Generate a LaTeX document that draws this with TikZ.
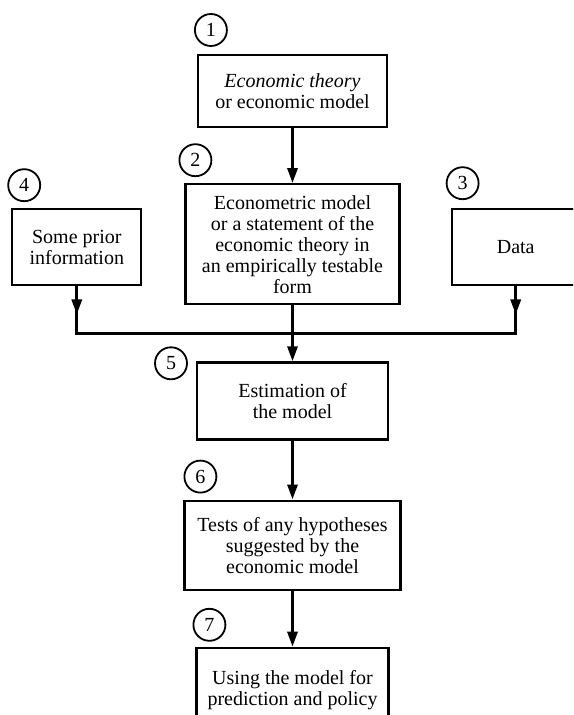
\documentclass[tikz,border=0pt]{standalone}
\usepackage{fontspec}
\setmainfont{Liberation Serif}
\usepackage{tikz}
\usetikzlibrary{shapes,positioning,calc,arrows.meta,decorations.markings}

\begin{document}
\begin{tikzpicture}[
    x=0.5pt,y=-0.5pt,
    node distance=28pt,
    stage/.style={rectangle,draw,line width=1.1pt,align=center,inner sep=2pt,font=\fontsize{10}{10.5}\selectfont},
    num/.style={circle,draw,line width=0.9pt,inner sep=0pt,minimum size=16pt,font=\fontsize{10}{10}\selectfont},
    flow/.style={line width=1.5pt,-{Triangle[length=7.5pt,width=5pt]}},
    midflow/.style={line width=1.5pt,postaction={decorate},
        decoration={markings,mark=at position 0.6 with {\arrow{Triangle[length=7.5pt,width=5pt]}}}}
    ]
        \useasboundingbox (0,0) rectangle (573,715);
        \clip (0,0) rectangle (573,715);
        \node [stage,minimum width=94.5pt,minimum height=36pt](theory) at (292.5,91) {\textit{Economic theory}\\or economic model};
        \node [stage,minimum width=107pt,minimum height=60pt](ecm) [below=27.5pt of theory] {Econometric model\\or a statement of the\\economic theory in\\an empirically testable\\form};
        \node [stage,minimum width=64.5pt,minimum height=38pt](prior) [left=21pt of ecm,yshift=-1.5pt] {Some prior\\information};
        \node [stage,minimum width=64pt,minimum height=38pt](data) [right=25pt of ecm,yshift=-1.5pt] {Data};
        \node [stage,minimum width=95.5pt,minimum height=38.5pt](estim) [below=of ecm] {Estimation of\\the model};
        \node [stage,minimum width=108pt,minimum height=44.5pt](tests) [below=29.5pt of estim] {Tests of any hypotheses\\suggested by the\\economic model};
        \node [stage,minimum width=96pt,minimum height=42pt](use) [below=of tests] {Using the model for\\prediction and policy};

        \node [num](n1) [above=3.5pt of theory.north west,xshift=7pt] {1};
        \node [num](n2) [above=3pt of ecm.north west,xshift=5.5pt] {2};
        \node [num](n3) [above=4pt of data.north west,xshift=6pt] {3};
        \node [num](n4) [above=3pt of prior.north west,xshift=6.5pt] {4};
        \node [num](n5) [left=4pt of estim.north west,yshift=-1pt] {5};
        \node [num](n6) [above=3pt of tests.north west,xshift=8.5pt] {6};
        \node [num](n7) [above=2.5pt of use.north west,xshift=7pt] {7};

        \coordinate (jn) at ($(ecm.south)!0.5!(estim.north)$);
        \coordinate (jp) at (prior.south |- jn);
        \coordinate (jd) at (data.south |- jn);

        \draw [line width=1.5pt] (prior) -- (jp) -- (jd) -- (data);
        \draw [midflow] (prior) -- (jp);
        \draw [midflow] (data) -- (jd);
        \draw [flow] (theory) edge (ecm);
        \draw [flow] (ecm) edge (estim);
        \draw [flow] (estim) edge (tests);
        \draw [flow] (tests) edge (use);
\end{tikzpicture}
\end{document}
